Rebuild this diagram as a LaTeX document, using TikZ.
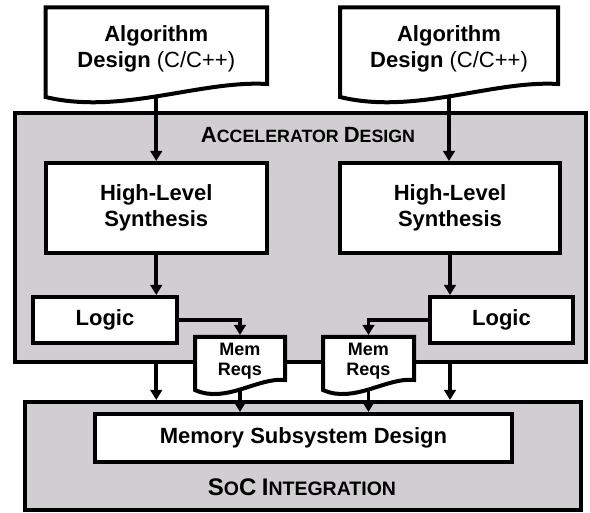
\documentclass[tikz,border=0pt]{standalone}
\usepackage{fontspec}
\setmainfont{Liberation Sans}
\usetikzlibrary{arrows.meta,calc}
\definecolor{panelgray}{RGB}{208,206,208}
\pgfdeclarelayer{bglayer}
\pgfdeclarelayer{arrowlayer}
\pgfdeclarelayer{shapelayer}
\pgfsetlayers{bglayer,arrowlayer,shapelayer,main}
\newcommand\myBig[2]{{\fontsize{#1}{#1}\selectfont #2}}
\newcommand\mydocshape[2]{%
  \path[docline] (#1.north west) -- (#1.north east) -- ($(#1.south east)+(0,-#2)$)
    .. controls ($(#1.south east)!0.3!(#1.south west)+(0,-1.6*#2)$)
       and ($(#1.south west)!0.34!(#1.south east)+(0,3.8*#2)$)
    .. ($(#1.south west)+(0,#2)$) -- cycle;}
\tikzset{
  box/.style={draw, line width=4pt, fill=white, rectangle, inner sep=0pt, align=center,
    font=\bfseries\fontsize{22}{25.5}\selectfont},
  panel/.style={draw, line width=4pt, fill=panelgray, rectangle, inner sep=0pt},
  doctext/.style={rectangle, inner sep=0pt, outer sep=0pt, align=center},
  docline/.style={draw, line width=4pt, fill=white, line join=miter},
  flow/.style={line width=3.6pt, -{Triangle[length=10pt,width=11.5pt]}},
  lbl/.style={inner sep=0pt, font=\bfseries},
}
\begin{document}
\begin{tikzpicture}[x=1pt,y=-1pt]
\useasboundingbox (0,0) rectangle (590,513);
\begin{pgfonlayer}{bglayer}
  \node[panel, minimum width=571pt, minimum height=249pt] (accel) at (300.5,237.5) {};
  \node[panel, minimum width=556pt, minimum height=108pt] (soc) at (303,456) {};
\end{pgfonlayer}
% text of labels
\node[lbl, font=\bfseries\fontsize{17.8}{20}\selectfont] (accellbl) at (308,135)
  {\myBig{22}{A}CCELERATOR \myBig{22}{D}ESIGN};
\node[lbl, font=\bfseries\fontsize{19.5}{21}\selectfont] (soclbl) at (302,487)
  {\myBig{24}{S}O\myBig{24}{C} \myBig{24}{I}NTEGRATION};
% boxes
\node[box, minimum width=221pt, minimum height=90pt] (hls1) at (156.25,208) {High-Level\\Synthesis};
\node[box, minimum width=220pt, minimum height=90pt] (hls2) at (450,208) {High-Level\\Synthesis};
\node[box, minimum width=144pt, minimum height=46pt] (logic1) at (105,320) {Logic};
\node[box, minimum width=143pt, minimum height=46pt] (logic2) at (501.5,320) {Logic};
\node[box, minimum width=417pt, minimum height=48pt] (memsub) at (303.5,438) {Memory Subsystem Design};
% documents
\node[doctext, minimum width=221.5pt, minimum height=83pt, font=\bfseries\fontsize{22}{26}\selectfont]
  (alg1) at (156.25,49) {Algorithm\\Design {\mdseries(C/C++)}};
\node[doctext, minimum width=218pt, minimum height=83pt, font=\bfseries\fontsize{22}{26}\selectfont]
  (alg2) at (449,49) {Algorithm\\Design {\mdseries(C/C++)}};
\node[doctext, minimum width=90pt, minimum height=48pt, font=\bfseries\fontsize{18}{19.5}\selectfont]
  (mem1) at (240,361) {Mem\\Reqs};
\node[doctext, minimum width=91pt, minimum height=48pt, font=\bfseries\fontsize{18}{19.5}\selectfont]
  (mem2) at (368.5,361) {Mem\\Reqs};
\begin{pgfonlayer}{shapelayer}
  \mydocshape{alg1}{6.5}
  \mydocshape{alg2}{6.5}
  \mydocshape{mem1}{5}
  \mydocshape{mem2}{5}
\end{pgfonlayer}
\begin{pgfonlayer}{arrowlayer}
  \draw[flow] (alg1.south) -- (alg1.south |- hls1.north);
  \draw[flow] (alg2.south) -- (alg2.south |- hls2.north);
  \draw[flow] (hls1.south) -- (hls1.south |- logic1.north);
  \draw[flow] (hls2.south) -- (hls2.south |- logic2.north);
  \draw[flow, shorten >=2pt] (logic1.east) -| (mem1.north);
  \draw[flow, shorten >=2pt] (logic2.west) -| (mem2.north);
  \draw[flow] (hls1.south |- accel.south) -- (hls1.south |- soc.north);
  \draw[flow] (hls2.south |- accel.south) -- (hls2.south |- soc.north);
  \draw[flow] (mem1.south) -- (mem1.south |- memsub.north);
  \draw[flow] (mem2.south) -- (mem2.south |- memsub.north);
\end{pgfonlayer}
\end{tikzpicture}
\end{document}
